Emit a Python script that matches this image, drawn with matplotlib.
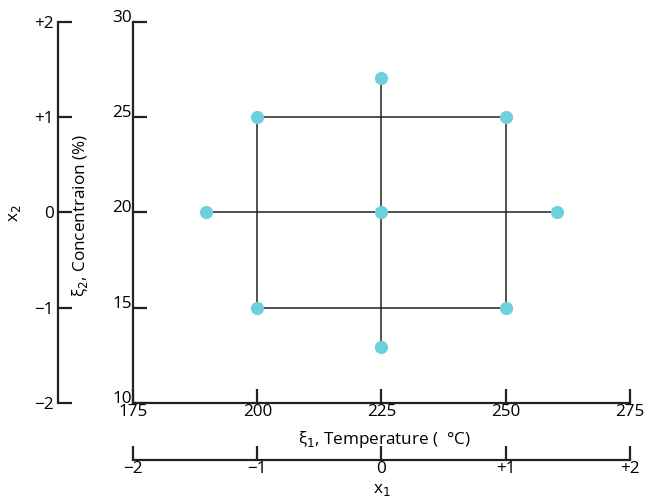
import matplotlib
matplotlib.use("Agg")
import matplotlib.pyplot as plt

plt.rcParams['font.family'] = ['Open Sans', 'DejaVu Sans']
plt.rcParams['mathtext.fontset'] = 'dejavusans'

# Design points (natural units)
temp = [200, 250, 200, 250, 189.6, 260.4, 225, 225, 225]
conc = [15, 15, 25, 25, 20, 20, 12.93, 27.07, 20]

# Connecting lines
square_t = [200, 250, 250, 200, 200]
square_c = [15, 15, 25, 25, 15]
axial_t = [189.6, 260.4]
axial_c = [12.93, 27.07]
center_t = 225
center_c = 20

temp_ticks = [175, 200, 225, 250, 275]
conc_ticks = [10, 15, 20, 25, 30]
coded_ticks = [-2, -1, 0, 1, 2]
coded_labels = ['\u22122', '\u22121', '0', '+1', '+2']

line_c = '#222222'
dot_c = '#6ecfdf'
fs = 12.3
lw = 1.6

fig = plt.figure(figsize=(6.46, 5.03), dpi=100)
ax = fig.add_axes([0.2059, 0.1988, 0.7693, 0.7575])

ax.plot(square_t, square_c, color=line_c, lw=1.1, zorder=2)
ax.plot(axial_t, [center_c, center_c], color=line_c, lw=1.1, zorder=2)
ax.plot([center_t, center_t], axial_c, color=line_c, lw=1.1, zorder=2)
ax.plot(temp, conc, 'o', color=dot_c, ms=9.5, mec='none', zorder=3)

ax.set_xlim(175, 275)
ax.set_ylim(10, 30)
ax.set_xticks(temp_ticks)
ax.set_yticks(conc_ticks)
for s in ['top', 'right']:
    ax.spines[s].set_visible(False)
for s in ['left', 'bottom']:
    ax.spines[s].set_linewidth(lw)
    ax.spines[s].set_color(line_c)
ax.tick_params(direction='in', length=10, width=lw, color=line_c, labelsize=fs, pad=1)
# y labels sit a little above their ticks in the original
plt.setp(ax.get_yticklabels(), va='baseline')

# coded x2 axis on the left
axl = fig.add_axes([0.0898, 0.1988, 0.0001, 0.7575])
axl.set_ylim(-2, 2)
axl.set_yticks(coded_ticks)
axl.set_yticklabels(coded_labels)
axl.set_xticks([])
axl.patch.set_visible(False)
for s in ['top', 'right', 'bottom']:
    axl.spines[s].set_visible(False)
axl.spines['left'].set_linewidth(lw)
axl.spines['left'].set_color(line_c)
axl.tick_params(direction='in', length=10, width=lw, color=line_c, labelsize=fs, pad=3)

# coded x1 axis at the bottom
axb = fig.add_axes([0.2059, 0.0855, 0.7693, 0.0001])
axb.set_xlim(-2, 2)
axb.set_xticks(coded_ticks)
axb.set_xticklabels(coded_labels)
axb.set_yticks([])
axb.patch.set_visible(False)
for s in ['top', 'right', 'left']:
    axb.spines[s].set_visible(False)
axb.spines['bottom'].set_linewidth(lw)
axb.spines['bottom'].set_color(line_c)
axb.tick_params(direction='in', length=10, width=lw, color=line_c, labelsize=fs, pad=1)

fig.text(384 / 646, 1 - 439 / 503, '\u03be$_1$, Temperature (  \u00b0C)',
         ha='center', va='center', fontsize=fs)
fig.text(382 / 646, 1 - 490 / 503, 'x$_1$', ha='center', va='center', fontsize=fs)
fig.text(80 / 646, 1 - 215 / 503, '\u03be$_2$, Concentraion (%)', ha='center', va='center',
         rotation=90, fontsize=fs)
fig.text(15 / 646, 1 - 213 / 503, 'x$_2$', ha='center', va='center', rotation=90, fontsize=fs)

fig.savefig('out.png', dpi=100)
